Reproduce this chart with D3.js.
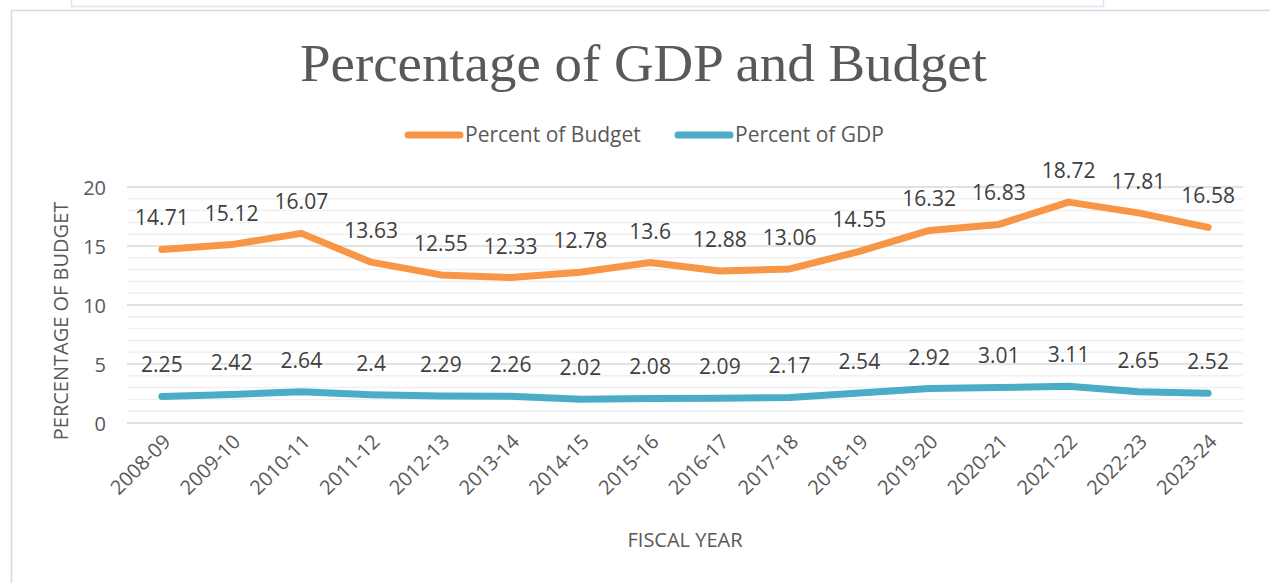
<!DOCTYPE html>
<html>
<head>
<meta charset="utf-8">
<script src="https://cdn.jsdelivr.net/npm/d3@7"></script>
<style>
  html, body { margin: 0; padding: 0; background: #fff; }
  svg { display: block; }
</style>
</head>
<body>
<svg id="chart" width="1270" height="583"></svg>
<script>
// Fiscal years and the two series plotted against them
const fiscalYears = ["2008-09","2009-10","2010-11","2011-12","2012-13","2013-14","2014-15","2015-16",
                     "2016-17","2017-18","2018-19","2019-20","2020-21","2021-22","2022-23","2023-24"];
const percentOfBudget = [14.71,15.12,16.07,13.63,12.55,12.33,12.78,13.6,12.88,13.06,14.55,16.32,16.83,18.72,17.81,16.58];
const percentOfGDP = [2.25,2.42,2.64,2.4,2.29,2.26,2.02,2.08,2.09,2.17,2.54,2.92,3.01,3.11,2.65,2.52];
const yTicks = [0, 5, 10, 15, 20];
const seriesNames = ["Percent of Budget", "Percent of GDP"];

const colors = { budget: "#F79646", gdp: "#4BACC6" };
const textColor = "#595959";
const labelFont = "'Open Sans', Lato, sans-serif";

const svg = d3.select("#chart");

// frames
svg.append("rect").attr("x", 71.5).attr("y", -5).attr("width", 1032).attr("height", 11.5)
  .attr("fill", "none").attr("stroke", "#dae6f5").attr("stroke-width", 1.5);
svg.append("rect").attr("x", 11.5).attr("y", 10.5).attr("width", 1270).attr("height", 600)
  .attr("fill", "#fff").attr("stroke", "#d9d9d9").attr("stroke-width", 1.5);

const margin = { left: 127, right: 1243, top: 187, bottom: 423 };

const x = d3.scaleBand().domain(fiscalYears).range([margin.left, margin.right]);
const y = d3.scaleLinear().domain([0, 20]).range([margin.bottom, margin.top]);
const cx = d => x(d) + x.bandwidth() / 2;

// minor gridlines every 1 unit, major every 5
const g = svg.append("g");
g.selectAll("line.minor").data(d3.range(0, 21).filter(v => v % 5 !== 0)).join("line")
  .attr("x1", margin.left).attr("x2", margin.right)
  .attr("y1", d => y(d)).attr("y2", d => y(d))
  .attr("stroke", "#f0f0f0").attr("stroke-width", 1.5);
g.selectAll("line.major").data(yTicks).join("line")
  .attr("x1", margin.left).attr("x2", margin.right)
  .attr("y1", d => y(d)).attr("y2", d => y(d))
  .attr("stroke", "#d9d9d9").attr("stroke-width", 1.5);

// y axis labels
const yAxis = svg.append("g").attr("transform", `translate(${margin.left - 21},0)`)
  .call(d3.axisLeft(y).tickValues(yTicks).tickSize(0).tickPadding(0));
yAxis.select(".domain").remove();
yAxis.selectAll("text").attr("font-family", labelFont).attr("font-size", 20)
  .attr("fill", textColor).attr("dy", "0.35em");

// x axis labels
const xAxis = svg.append("g").attr("transform", `translate(0,${margin.bottom})`)
  .call(d3.axisBottom(x).tickSize(0).tickPadding(0));
xAxis.select(".domain").remove();
xAxis.selectAll("text")
  .attr("font-family", labelFont).attr("font-size", 20).attr("fill", textColor)
  .attr("text-anchor", "end").attr("dy", 0).attr("y", 0)
  .attr("transform", "translate(10,20) rotate(-45)");

// axis titles
svg.append("text").attr("transform", `translate(68,${(margin.top + margin.bottom) / 2 + 16}) rotate(-90)`)
  .attr("text-anchor", "middle").attr("font-family", labelFont).attr("font-size", 20)
  .attr("fill", textColor).text("PERCENTAGE OF BUDGET");
svg.append("text").attr("x", 685).attr("y", 547).attr("text-anchor", "middle")
  .attr("font-family", labelFont).attr("font-size", 20).attr("fill", textColor).text("FISCAL YEAR");

// title
svg.append("text").attr("x", 643.5).attr("y", 81).attr("text-anchor", "middle")
  .attr("font-family", "'Liberation Serif', 'DejaVu Serif', serif").attr("font-size", 53)
  .attr("textLength", 687).attr("lengthAdjust", "spacingAndGlyphs")
  .attr("fill", textColor).text("Percentage of GDP and Budget");

// lines with value labels
const line = d3.line().x((d, i) => cx(fiscalYears[i])).y(d => y(d));
[[percentOfBudget, colors.budget], [percentOfGDP, colors.gdp]].forEach(([vals, col]) => {
  svg.append("path").datum(vals).attr("d", line).attr("fill", "none")
    .attr("stroke", col).attr("stroke-width", 7)
    .attr("stroke-linecap", "round").attr("stroke-linejoin", "round");
  svg.append("g").selectAll("text").data(vals).join("text")
    .attr("x", (d, i) => cx(fiscalYears[i])).attr("y", d => y(d) - 24)
    .attr("text-anchor", "middle").attr("font-family", labelFont).attr("font-size", 21)
    .attr("fill", "#404040").text(d => d);
});

// legend
const legend = [
  { name: seriesNames[0], color: colors.budget, x: 408 },
  { name: seriesNames[1], color: colors.gdp, x: 678 }
];
legend.forEach(l => {
  svg.append("line").attr("x1", l.x).attr("x2", l.x + 52).attr("y1", 135).attr("y2", 135)
    .attr("stroke", l.color).attr("stroke-width", 7).attr("stroke-linecap", "round");
  svg.append("text").attr("x", l.x + 57).attr("y", 142).attr("font-family", labelFont)
    .attr("font-size", 21).attr("fill", textColor).text(l.name);
});
</script>
</body>
</html>
